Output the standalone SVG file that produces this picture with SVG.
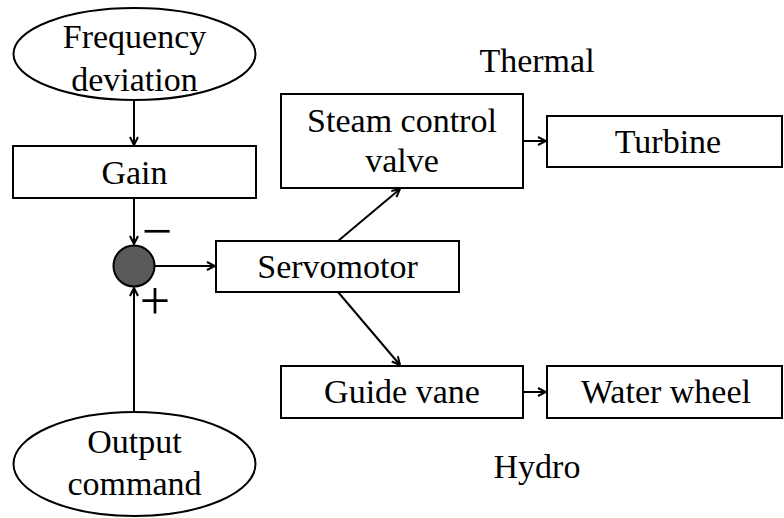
<svg xmlns="http://www.w3.org/2000/svg" width="784" height="518" viewBox="0 0 784 518">
<style>
.box{fill:#fff;stroke:#000;stroke-width:2}
.t{font-family:"Liberation Serif","Times New Roman",serif;font-size:34px;fill:#000;text-anchor:middle}
.sign{font-family:"Liberation Serif","Times New Roman",serif;font-size:54px;fill:#000;text-anchor:middle}
.c{fill:none;stroke:#000;stroke-width:2}
</style>
<defs>
<marker id="ah" viewBox="0 0 10 10" refX="9" refY="5" markerWidth="10" markerHeight="10" markerUnits="userSpaceOnUse" orient="auto">
<path d="M1,1 L9,5 L1,9" fill="none" stroke="#000" stroke-width="2"/>
</marker>
</defs>
<rect width="784" height="518" fill="#fff"/>
<g id="connectors">
<line class="c" x1="134" y1="100" x2="134" y2="145" marker-end="url(#ah)"/>
<line class="c" x1="134" y1="198" x2="134" y2="244" marker-end="url(#ah)"/>
<line class="c" x1="134" y1="412" x2="134" y2="288" marker-end="url(#ah)"/>
<line class="c" x1="155" y1="266" x2="215" y2="266" marker-end="url(#ah)"/>
<line class="c" x1="338" y1="241" x2="400" y2="189" marker-end="url(#ah)"/>
<line class="c" x1="338" y1="292" x2="400" y2="365" marker-end="url(#ah)"/>
<line class="c" x1="523" y1="141" x2="546" y2="141" marker-end="url(#ah)"/>
<line class="c" x1="523" y1="392" x2="546" y2="392" marker-end="url(#ah)"/>
</g>
<g id="freq">
<ellipse class="box" cx="134.5" cy="54" rx="121" ry="46"/>
<text class="t" x="134.5" y="48">Frequency</text>
<text class="t" x="134.5" y="91">deviation</text>
</g>
<g id="gain">
<rect class="box" x="13" y="146" width="243" height="52"/>
<text class="t" x="134.5" y="184">Gain</text>
</g>
<g id="sum">
<circle cx="134" cy="266" r="20.5" fill="#595959" stroke="#000" stroke-width="2"/>
<text class="sign" x="157" y="249">−</text>
<text class="sign" x="155" y="319">+</text>
</g>
<g id="output">
<ellipse class="box" cx="134.5" cy="464" rx="121" ry="52"/>
<text class="t" x="134.5" y="453">Output</text>
<text class="t" x="134.5" y="495">command</text>
</g>
<g id="servo">
<rect class="box" x="216" y="241" width="243" height="51"/>
<text class="t" x="337.5" y="278">Servomotor</text>
</g>
<g id="steam">
<rect class="box" x="281" y="94" width="242" height="94"/>
<text class="t" x="402" y="132">Steam control</text>
<text class="t" x="402" y="172">valve</text>
</g>
<g id="turbine">
<rect class="box" x="547" y="116" width="235" height="51"/>
<text class="t" x="668" y="153">Turbine</text>
</g>
<g id="guide">
<rect class="box" x="281" y="366" width="242" height="52"/>
<text class="t" x="402" y="403">Guide vane</text>
</g>
<g id="water">
<rect class="box" x="547" y="366" width="235" height="52"/>
<text class="t" x="666" y="403">Water wheel</text>
</g>
<g id="labels">
<text class="t" x="537" y="72">Thermal</text>
<text class="t" x="537" y="478">Hydro</text>
</g>
</svg>
